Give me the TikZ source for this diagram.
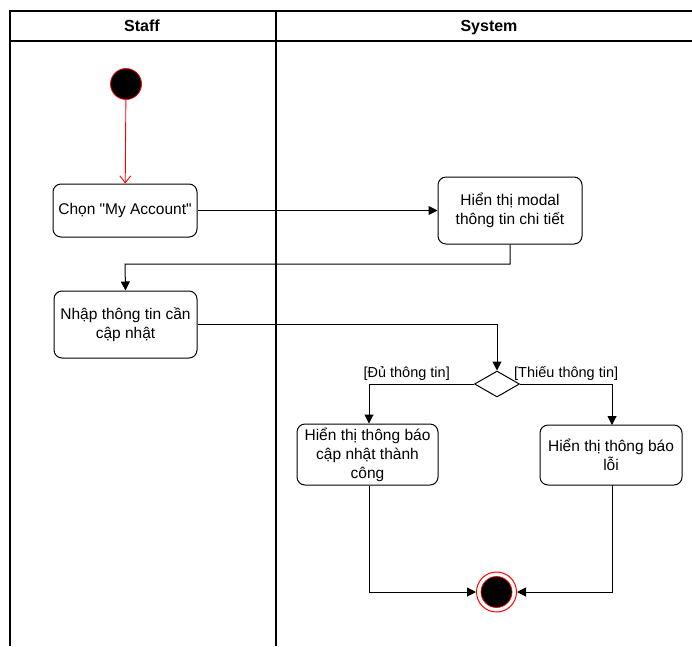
\documentclass[tikz,border=0pt]{standalone}
\usepackage{fontspec}
\setmainfont{Liberation Sans}[Ligatures=TeXOff]
\usetikzlibrary{arrows.meta,shapes.geometric}
\begin{document}
\begin{tikzpicture}[x=1pt,y=-1pt,
  lane/.style={line width=1.3pt,black},
  act/.style={draw,line width=1pt,rounded corners=8pt,align=center,font=\fontsize{15.5}{19}\selectfont,inner sep=0pt},
  flow/.style={line width=1pt,-{Triangle[length=9pt,width=9pt]}},
  lbl/.style={font=\fontsize{14.5}{17}\selectfont},
  hdr/.style={font=\bfseries\fontsize{16}{18}\selectfont,text height=11pt,text depth=3pt,inner sep=0pt}]
\useasboundingbox (0,0) rectangle (692,646);
% swimlanes
\draw[lane] (10,646) -- (10,11) -- (702,11);
\draw[lane] (10,41) -- (702,41);
\draw[lane] (276,11) -- (276,646);
\node[hdr] (hstaff) at (142,27) {Staff};
\node[hdr] (hsys) at (489,27) {System};
% nodes
\node[circle,fill=black,draw=red,line width=0.8pt,minimum size=31pt,inner sep=0pt] (start) at (126,84) {};
\node[act,minimum width=144pt,minimum height=53pt] (a1) at (125,210.5) {Chọn "My Account"};
\node[act,minimum width=144pt,minimum height=67pt] (a2) at (510,210.5) {Hiển thị modal\\thông tin chi tiết};
\node[act,minimum width=143pt,minimum height=67pt] (a3) at (125.5,324.5) {Nhập thông tin cần\\cập nhật};
\node[diamond,draw,line width=1pt,minimum width=45pt,minimum height=26pt,inner sep=0pt] (d) at (497,384) {};
\node[act,minimum width=141pt,minimum height=61pt] (a4) at (367.5,454.5) {Hiển thị thông báo\\cập nhật thành\\công};
\node[act,minimum width=142pt,minimum height=60pt] (a5) at (611,455) {Hiển thị thông báo\\lỗi};
\node[circle,draw=red,line width=1pt,minimum size=40pt,inner sep=0pt] (end) at (496.5,592) {};
\node[circle,fill=black,draw=red,line width=0.7pt,minimum size=31pt,inner sep=0pt] (endin) at (496.5,592) {};
% labels
\node[lbl,anchor=east,inner sep=0pt] (l1) at (450,373.5) {[Đủ thông tin]};
\node[lbl,anchor=west,inner sep=0pt] (l2) at (514,373.5) {[Thiếu thông tin]};
% edges
\draw[red,line width=0.9pt,-{Straight Barb[length=7pt,width=11pt]}] (start) -- (a1);
\draw[flow] (a1) -- (a2);
\draw[flow] (a2.south) |- (125,264) coordinate (c1) -- (a3.north);
\draw[flow] (a3.east) -| (d.north);
\draw[flow] (d.west) -| (a4.north -| 369,0);
\draw[flow] (d.east) -| (612,425);
\draw[flow] (a4.south -| 369,0) |- (end.west);
\draw[flow] (612,485) |- (end.east);
\end{tikzpicture}
\end{document}
